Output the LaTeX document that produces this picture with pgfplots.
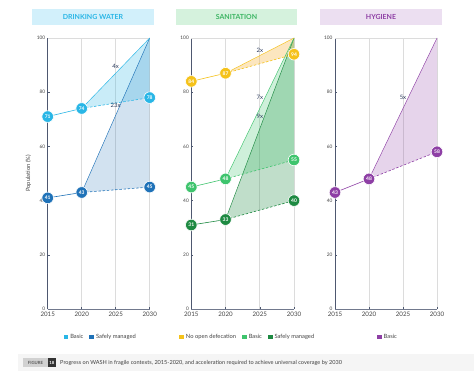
\documentclass[border=0pt]{standalone}
\usepackage{fontspec}
\setmainfont{Lato}
\usepackage{pgfplots}
\pgfplotsset{compat=1.18}
\definecolor{dwb}{HTML}{29B6E6}
\definecolor{dws}{HTML}{1F72B8}
\definecolor{dwbg}{HTML}{D2F0FB}
\definecolor{snd}{HTML}{F5C21A}
\definecolor{sndf}{HTML}{F7B84A}
\definecolor{snb}{HTML}{3EC46D}
\definecolor{sns}{HTML}{1E8A42}
\definecolor{snbg}{HTML}{D5F2DD}
\definecolor{snt}{HTML}{3CB563}
\definecolor{hyb}{HTML}{8E3FA5}
\definecolor{hybg}{HTML}{ECDFF1}
\definecolor{axiscol}{HTML}{4E5870}
\definecolor{gridcol}{HTML}{DCDCDC}
\definecolor{navy}{HTML}{2B3A5C}
\definecolor{txt}{HTML}{444444}
\pgfplotsset{panel/.style={
  scale only axis, width=102bp, height=271bp,
  xmin=2015, xmax=2030, ymin=0, ymax=100,
  xtick={2015,2020,2025,2030}, ytick={0,20,40,60,80,100},
  /pgf/number format/assume math mode=true,
  /pgf/number format/1000 sep={},
  xticklabel style={font=\fontsize{6.2}{7}\selectfont, text=txt},
  yticklabel style={font=\fontsize{4.8}{5}\selectfont, text=txt, xshift=1bp},
  axis x line*=bottom, axis y line*=left,
  x axis line style={-, line width=0.9bp, draw=axiscol!80},
  y axis line style={-, line width=0.9bp, draw=axiscol},
  xmajorgrids, grid style={gridcol, line width=0.9bp},
  tick style={axiscol, line width=0.5bp}, major tick length=2bp,
  clip=false,
  legend style={draw=none, fill=none, font=\fontsize{5.8}{6}\selectfont, text=txt,
     legend columns=-1, at={(0.52,-0.103)}, anchor=center,
     /tikz/every even column/.append style={column sep=4bp}},
  legend image code/.code={\fill[##1, draw=none] (0bp,-2.3bp) rectangle (4.6bp,2.3bp);},
  tri/.style={draw=none, fill=##1, fill opacity=0.22, forget plot},
  edge/.style={draw=##1, line width=0.45bp, forget plot},
  hist/.style={draw=##1, line width=0.6bp, forget plot},
  proj/.style={draw=##1, line width=0.6bp, dash pattern=on 2.4bp off 1.8bp, forget plot},
  mk/.style={only marks, mark=*, mark size=5.8bp, mark options={fill=##1, draw=white, line width=0.6bp, solid},
     forget plot, point meta=explicit symbolic, nodes near coords, nodes near coords align=center,
     every node near coord/.append style={anchor=center, text=white, inner sep=0pt,
       font=\bfseries\fontsize{5}{5}\selectfont}},
}}
\begin{document}
\begin{tikzpicture}
\useasboundingbox (0bp,0bp) rectangle (474bp,371bp);
\fill[white] (0bp,0bp) rectangle (474bp,371bp);
\fill[black!4] (18bp,0bp) rectangle (474bp,17bp);
% titles
\fill[dwbg] (32bp,346bp) rectangle (154bp,362bp);
\node[text=dwb, font=\bfseries\fontsize{7}{8}\selectfont] at (93bp,354bp) {DRINKING WATER};
\fill[snbg] (176bp,346bp) rectangle (297bp,362bp);
\node[text=snt, font=\bfseries\fontsize{7}{8}\selectfont] at (236.5bp,354bp) {SANITATION};
\fill[hybg] (320bp,346bp) rectangle (442bp,362bp);
\node[text=hyb, font=\bfseries\fontsize{7}{8}\selectfont] at (381bp,354bp) {HYGIENE};
% caption
\fill[black!18] (23bp,3.5bp) rectangle (48bp,12.5bp);
\node[text=black!65, font=\bfseries\fontsize{4.3}{5}\selectfont] at (35.5bp,8bp) {FIGURE};
\fill[black!80] (48bp,3.5bp) rectangle (55.5bp,12.5bp);
\node[text=white, font=\bfseries\fontsize{4.3}{5}\selectfont] at (51.75bp,8bp) {18};
\node[anchor=west, text=black!75, font=\fontsize{5.6}{6}\selectfont, inner sep=0pt] at (60bp,8bp) {Progress on WASH in fragile contexts, 2015-2020, and acceleration required to achieve universal coverage by 2030};

% ---------- Drinking water
\begin{axis}[panel, at={(47.7bp,62bp)}, anchor=south west]
\draw[gridcol, line width=0.6bp] (axis cs:2015,100) -- (axis cs:2030,100);
\node[rotate=90, font=\fontsize{5.8}{6}\selectfont, text=txt] at (axis description cs:-0.19,0.5) {Population (\%)};
\addplot[tri=dws, fill opacity=0.2] coordinates {(2020,43) (2030,100) (2030,45)} -- cycle;
\addplot[tri=dwb, fill opacity=0.25] coordinates {(2020,74) (2030,100) (2030,78)} -- cycle;
\addplot[edge=dws] coordinates {(2020,43) (2030,100)};
\addplot[edge=dwb] coordinates {(2020,74) (2030,100)};
\addplot[hist=dwb] coordinates {(2015,71) (2020,74)};
\addplot[proj=dwb] coordinates {(2020,74) (2030,78)};
\addplot[hist=dws] coordinates {(2015,41) (2020,43)};
\addplot[proj=dws] coordinates {(2020,43) (2030,45)};
\addplot[mk=dwb] coordinates {(2015,71) [71] (2020,74) [74] (2030,78) [78]};
\addplot[mk=dws] coordinates {(2015,41) [41] (2020,43) [43] (2030,45) [45]};
\node[text=navy, font=\fontsize{6}{7}\selectfont] at (axis cs:2025,89.7) {4x};
\node[text=navy, font=\fontsize{6}{7}\selectfont] at (axis cs:2025,75.3) {23x};
\addlegendimage{fill=dwb}\addlegendentry{Basic}
\addlegendimage{fill=dws}\addlegendentry{Safely managed}
\end{axis}

% ---------- Sanitation
\begin{axis}[panel, width=102.7bp, at={(191.3bp,62bp)}, anchor=south west, legend style={at={(0.55,-0.103)}}]
\draw[gridcol, line width=0.6bp] (axis cs:2015,100) -- (axis cs:2030,100);
\addplot[tri=sns, fill opacity=0.28] coordinates {(2020,33) (2030,100) (2030,40)} -- cycle;
\addplot[tri=snb, fill opacity=0.25] coordinates {(2020,48) (2030,100) (2030,55)} -- cycle;
\addplot[tri=sndf, fill opacity=0.35] coordinates {(2020,87) (2030,100) (2030,94)} -- cycle;
\addplot[edge=sns] coordinates {(2020,33) (2030,100)};
\addplot[edge=snb] coordinates {(2020,48) (2030,100)};
\addplot[edge=snd] coordinates {(2020,87) (2030,100)};
\addplot[hist=snd] coordinates {(2015,84) (2020,87)};
\addplot[proj=snd] coordinates {(2020,87) (2030,94)};
\addplot[hist=snb] coordinates {(2015,45) (2020,48)};
\addplot[proj=snb] coordinates {(2020,48) (2030,55)};
\addplot[hist=sns] coordinates {(2015,31) (2020,33)};
\addplot[proj=sns] coordinates {(2020,33) (2030,40)};
\addplot[mk=snd] coordinates {(2015,84) [84] (2020,87) [87] (2030,94) [94]};
\addplot[mk=snb] coordinates {(2015,45) [45] (2020,48) [48] (2030,55) [55]};
\addplot[mk=sns] coordinates {(2015,31) [31] (2020,33) [33] (2030,40) [40]};
\node[text=navy, font=\fontsize{6}{7}\selectfont] at (axis cs:2025,95.6) {2x};
\node[text=navy, font=\fontsize{6}{7}\selectfont] at (axis cs:2025,78.2) {7x};
\node[text=navy, font=\fontsize{6}{7}\selectfont] at (axis cs:2025,71.2) {9x};
\addlegendimage{fill=snd}\addlegendentry{No open defecation}
\addlegendimage{fill=snb}\addlegendentry{Basic}
\addlegendimage{fill=sns}\addlegendentry{Safely managed}
\end{axis}

% ---------- Hygiene
\begin{axis}[panel, at={(335bp,62bp)}, anchor=south west]
\draw[gridcol, line width=0.6bp] (axis cs:2015,100) -- (axis cs:2030,100);
\addplot[tri=hyb, fill opacity=0.22] coordinates {(2020,48) (2030,100) (2030,58)} -- cycle;
\addplot[edge=hyb] coordinates {(2020,48) (2030,100)};
\addplot[hist=hyb] coordinates {(2015,43) (2020,48)};
\addplot[proj=hyb] coordinates {(2020,48) (2030,58)};
\addplot[mk=hyb] coordinates {(2015,43) [43] (2020,48) [48] (2030,58) [58]};
\node[text=navy, font=\fontsize{6}{7}\selectfont] at (axis cs:2025,78.2) {5x};
\addlegendimage{fill=hyb}\addlegendentry{Basic}
\end{axis}
\end{tikzpicture}
\end{document}
